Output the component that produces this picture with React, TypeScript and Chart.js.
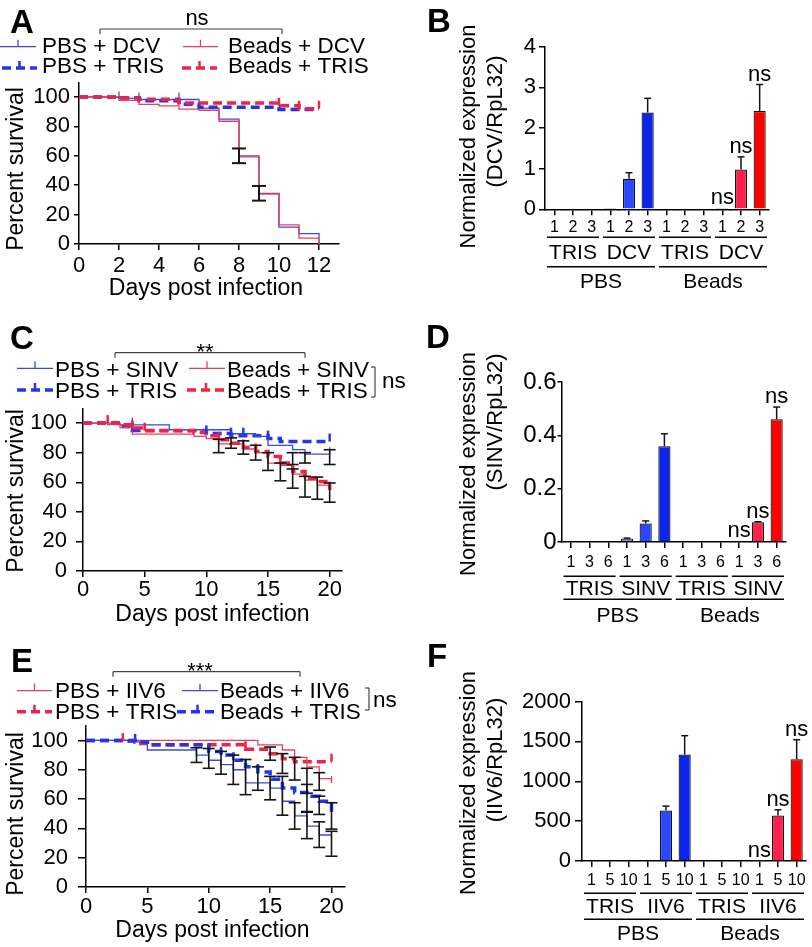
import React, { useEffect, useRef } from "react";
import { Chart, registerables } from "chart.js";
Chart.register(...registerables);

const FONT = "'Liberation Sans', Arial, Helvetica, sans-serif";
Chart.defaults.font.family = FONT;
Chart.defaults.color = "#000";

const W = 812;
const H = 947;
const BLUE = "#3a4bdc";
const RED = "#e8405a";
const BLUE_DASH = "#2236ee";
const RED_DASH = "#ee2447";

// ---------------- Panel A (DCV survival) ----------------
const aLegend = ["PBS + DCV", "Beads + DCV", "PBS + TRIS", "Beads + TRIS"];
const aXTicks = [0, 2, 4, 6, 8, 10, 12];
const survYTicks = [0, 20, 40, 60, 80, 100];
const aPbsDcvDays = [0, 2, 3, 6, 7, 8, 9, 10, 11, 12];
const aPbsDcvSurv = [100, 99, 98.3, 92.5, 85, 60, 34.5, 11.5, 7, 0];
const aPbsDcvCens = [2, 3, 5];
const aBeadsDcvDays = [0, 2, 3, 4, 5, 6, 7, 8, 9, 10, 11, 12];
const aBeadsDcvSurv = [100, 97.7, 95, 94, 91.8, 91, 83.5, 59.3, 34, 13, 4, 0];
const aPbsTrisDays = [0, 2, 3, 5, 6, 10, 12];
const aPbsTrisSurv = [100, 99.5, 97.5, 95, 93, 91.5, 91.5];
const aBeadsTrisDays = [0, 2, 3, 5, 10, 11, 12];
const aBeadsTrisSurv = [100, 99.3, 98.5, 96, 94, 92, 92];
const aBeadsTrisCens = [10, 11, 12];
const aErrDays = [8, 9];
const aErrLow = [55, 29.5];
const aErrHigh = [65, 39.5];

// ---------------- Panel C (SINV survival) ----------------
const cLegend = ["PBS + SINV", "Beads + SINV", "PBS + TRIS", "Beads + TRIS"];
const cXTicks = [0, 5, 10, 15, 20];
const cPbsSinvDays = [0, 3, 7, 12, 14, 15, 17, 18, 20];
const cPbsSinvSurv = [100, 98.8, 95.5, 92.8, 91, 85, 82, 79, 79];
const cPbsSinvCens = [4, 20];
const cBeadsSinvDays = [0, 2, 3, 4, 9, 10, 11, 13, 14, 15, 16, 17, 18, 19, 20];
const cBeadsSinvSurv = [100, 99, 97, 92.5, 91, 89.5, 86, 82.5, 80, 73, 71.5, 65.5, 61.5, 58, 56];
const cPbsTrisDays = [0, 3, 4, 10, 12, 15, 16, 20];
const cPbsTrisSurv = [100, 97.7, 95, 93, 91.5, 89.5, 87.5, 87.5];
const cPbsTrisCens = [4, 10, 12, 13, 15, 20];
const cBeadsTrisDays = [0, 3, 4, 5, 9, 10, 11, 12, 13, 14, 15, 16, 17, 18, 19, 20];
const cBeadsTrisSurv = [100, 98.9, 96.6, 94.8, 93.7, 91.4, 88.7, 86.4, 83.5, 80.8, 77.4, 73, 67.2, 62.7, 60.5, 55];
const cBeadsTrisCens = [2, 4, 5, 11, 13, 14, 16, 18, 20];
const cErrDays = [11, 12, 13, 14, 15, 16, 17, 17, 18, 18, 19, 20, 20];
const cErrLow = [80, 83, 79, 75, 68, 61, 72, 56, 73, 50, 48.5, 72, 46.5];
const cErrHigh = [89, 90, 88, 85, 80, 73, 80, 69, 80, 64, 63.5, 82, 59.5];

// ---------------- Panel E (IIV6 survival) ----------------
const eLegend = ["PBS + IIV6", "Beads + IIV6", "PBS + TRIS", "Beads + TRIS"];
const eXTicks = [0, 5, 10, 15, 20];
const ePbsIivDays = [0, 14, 16, 17, 18, 19, 20];
const ePbsIivSurv = [100, 97, 93.5, 88.5, 82, 74, 71];
const ePbsIivCens = [20];
const eBeadsIivDays = [0, 4, 5, 9, 10, 11, 12, 13, 15, 16, 17, 18, 19, 20];
const eBeadsIivSurv = [100, 99, 93.5, 90, 86.5, 83.5, 80, 71, 67.5, 58.5, 48.5, 41.5, 35.5, 35.5];
const eBeadsIivCens = [4];
const ePbsTrisDays = [0, 3, 4, 5, 13, 15, 16, 17, 20];
const ePbsTrisSurv = [100, 99.5, 98, 97, 94, 91, 87.5, 85.5, 85.5];
const ePbsTrisCens = [3, 13, 20];
const eBeadsTrisDays = [0, 4, 5, 10, 11, 12, 13, 14, 15, 16, 17, 18, 19, 20];
const eBeadsTrisSurv = [100, 99, 97, 92.5, 90, 86.5, 82, 78.5, 73.5, 67.5, 64.5, 62, 58.5, 51];
const eBeadsTrisCens = [4, 10, 11, 12, 13, 14];
const eErrDays = [9, 10, 11, 12, 13, 14, 15, 15, 16, 16, 17, 17, 18, 18, 18, 19, 19, 19, 20, 20];
const eErrLow = [85, 81, 77, 70, 63, 66, 86.5, 59.5, 77.5, 49, 73, 39.5, 64, 51, 33, 66, 49.5, 27, 39.5, 21];
const eErrHigh = [95, 94.5, 92.5, 90, 87, 82, 95.5, 75.5, 91, 75.5, 88.5, 57.5, 81, 70, 51.5, 78, 62, 44.5, 57.5, 38];

// ---------------- Bar panels ----------------
const topGroups = ["PBS", "Beads"];
const bTicks = ["1", "2", "3", "1", "2", "3", "1", "2", "3", "1", "2", "3"];
const bGroups = ["TRIS", "DCV", "TRIS", "DCV"];
const bValues = [0, 0, 0, 0.03, 0.75, 2.38, 0, 0, 0, 0.03, 0.98, 2.42];
const bErr = [null, null, null, null, 0.9, 2.73, null, null, null, null, 1.29, 3.07];
const bNs = [9, 10, 11];
const bYTicks = [0, 1, 2, 3, 4];
const bTitle = ["Normalized expression", "(DCV/RpL32)"];

const dTicks = ["1", "3", "6", "1", "3", "6", "1", "3", "6", "1", "3", "6"];
const dGroups = ["TRIS", "SINV", "TRIS", "SINV"];
const dValues = [0, 0, 0, 0.0125, 0.069, 0.359, 0, 0, 0, 0.002, 0.074, 0.46];
const dErr = [null, null, null, 0.0145, 0.079, 0.406, null, null, null, null, 0.076, 0.506];
const dNs = [9, 10, 11];
const dYTicks = [0, 0.2, 0.4, 0.6];
const dTitle = ["Normalized expression", "(SINV/RpL32)"];

const fTicks = ["1", "5", "10", "1", "5", "10", "1", "5", "10", "1", "5", "10"];
const fGroups = ["TRIS", "IIV6", "TRIS", "IIV6"];
const fValues = [0, 0, 0, 0, 634, 1334, 0, 0, 0, 3, 571, 1275];
const fErr = [null, null, null, null, 688, 1571, null, null, null, null, 642, 1521];
const fNs = [9, 10, 11];
const fYTicks = [0, 500, 1000, 1500, 2000];
const fTitle = ["Normalized expression", "(IIV6/RpL32)"];

const barColors = ["#ffffff", "#ffffff", "#ffffff", "#7d8cff", "#2a47ff", "#0b24ee",
  "#ffffff", "#ffffff", "#ffffff", "#ff8094", "#ff1f4d", "#ff0000"];

// ---------------- drawing helpers ----------------
function seg(ctx: any, x1: number, y1: number, x2: number, y2: number, color = "#000", w = 1.5, dash: number[] = []) {
  ctx.save();
  ctx.strokeStyle = color;
  ctx.lineWidth = w;
  ctx.setLineDash(dash);
  ctx.beginPath();
  ctx.moveTo(x1, y1);
  ctx.lineTo(x2, y2);
  ctx.stroke();
  ctx.restore();
}
function label(ctx: any, s: string, x: number, y: number, size: number, align = "left", bold = false) {
  ctx.save();
  ctx.font = `${bold ? "bold " : ""}${size}px ${FONT}`;
  ctx.fillStyle = "#000";
  ctx.textAlign = align;
  ctx.textBaseline = "alphabetic";
  ctx.fillText(s, x, y);
  ctx.restore();
}
function vlabel(ctx: any, s: string, cx: number, cy: number, size: number) {
  ctx.save();
  ctx.translate(cx, cy);
  ctx.rotate(-Math.PI / 2);
  ctx.font = `${size}px ${FONT}`;
  ctx.fillStyle = "#000";
  ctx.textAlign = "center";
  ctx.textBaseline = "middle";
  ctx.fillText(s, 0, 0);
  ctx.restore();
}
function stepAt(c: any, d: number) {
  let v = c.surv[0];
  for (let i = 0; i < c.days.length; i++) if (c.days[i] <= d) v = c.surv[i];
  return v;
}
function sample(ctx: any, c: any, x1: number, x2: number, y: number) {
  seg(ctx, x1, y, x2, y, c.color, c.dashed ? 3.5 : 1.3, c.dashed ? [9, 5] : []);
  const m = (x1 + x2) / 2;
  seg(ctx, m, y, m, y - 7, c.color, c.dashed ? 2.5 : 1.3);
}
function sigBracket(ctx: any, x1: number, x2: number, y: number, txt: string, tx: number, ty: number) {
  seg(ctx, x1, y + 5, x1, y, "#444", 1.2);
  seg(ctx, x1, y, x2, y, "#444", 1.2);
  seg(ctx, x2, y, x2, y + 5, "#444", 1.2);
  label(ctx, txt, tx, ty, 22, "center");
}
function sideNs(ctx: any, x: number, y1: number, y2: number, tx: number, ty: number) {
  seg(ctx, x - 4, y1, x, y1, "#444", 1.2);
  seg(ctx, x, y1, x, y2, "#444", 1.2);
  seg(ctx, x - 4, y2, x, y2, "#444", 1.2);
  label(ctx, "ns", tx, ty, 22.5);
}

// ---------------- survival chart factory ----------------
function makeSurv(P: any) {
  const decor = {
    id: "decor",
    afterDatasetsDraw(chart: any) {
      const ctx = chart.ctx;
      const xs = chart.scales.x;
      const ys = chart.scales.y;
      P.curves.forEach((c: any) => {
        c.cens.forEach((d: number) => {
          const px = xs.getPixelForValue(d);
          const py = ys.getPixelForValue(stepAt(c, d));
          seg(ctx, px, py, px, py - (c.dashed ? 8 : 7), c.color, c.dashed ? 2.5 : 1.3);
        });
      });
      P.errDays.forEach((d: number, i: number) => {
        const px = xs.getPixelForValue(d);
        const lo = ys.getPixelForValue(P.errLow[i]);
        const hi = ys.getPixelForValue(P.errHigh[i]);
        seg(ctx, px, lo, px, hi, "#151515", P.errW);
        seg(ctx, px - P.errCap, lo, px + P.errCap, lo, "#151515", P.errW);
        seg(ctx, px - P.errCap, hi, px + P.errCap, hi, "#151515", P.errW);
      });
    },
    afterDraw(chart: any) {
      const ctx = chart.ctx;
      P.legendPos.forEach((p: any, i: number) => {
        sample(ctx, P.curves[p.c], p.x1, p.x2, p.ly);
        label(ctx, P.legend[i], p.tx, p.ty, 22.5);
      });
      P.draw(ctx);
    },
  };
  return {
    type: "line",
    data: {
      datasets: P.curves.map((c: any) => ({
        data: c.days.map((d: number, i: number) => ({ x: d, y: c.surv[i] })),
        borderColor: c.color,
        borderWidth: c.dashed ? 3.5 : 1.3,
        borderDash: c.dashed ? [9, 5] : [],
        stepped: "before",
        pointRadius: 0,
        fill: false,
        order: c.order,
      })),
    },
    options: {
      responsive: false,
      animation: false,
      devicePixelRatio: 1,
      events: [],
      layout: { padding: { left: 0, top: P.top, right: W - P.right, bottom: 0 } },
      plugins: { legend: { display: false }, tooltip: { enabled: false } },
      scales: {
        x: {
          type: "linear",
          min: 0,
          max: P.xMax,
          afterFit: (s: any) => { s.height = H - P.bottom; },
          afterBuildTicks: (s: any) => { s.ticks = P.xTicks.map((v: number) => ({ value: v })); },
          ticks: { font: { size: 22 }, padding: P.xTickPad, color: "#000", maxRotation: 0, autoSkip: false, callback: (v: any) => String(v) },
          grid: { drawOnChartArea: false, tickLength: 6, color: "#000", lineWidth: 1.5 },
          border: { color: "#000", width: 1.5 },
        },
        y: {
          min: 0,
          max: 110,
          afterFit: (s: any) => { s.width = P.left; },
          afterBuildTicks: (s: any) => { s.ticks = survYTicks.map((v) => ({ value: v })); },
          ticks: { font: { size: 22 }, padding: P.yTickPad, color: "#000", callback: (v: any) => String(v) },
          grid: { drawOnChartArea: false, tickLength: P.yTickLen, color: "#000", lineWidth: 1.5 },
          border: { color: "#000", width: 1.5 },
        },
      },
    },
    plugins: [decor],
  };
}

// ---------------- bar chart factory ----------------
function makeBar(P: any) {
  const decor = {
    id: "decor",
    afterDatasetsDraw(chart: any) {
      const ctx = chart.ctx;
      const ys = chart.scales.y;
      const xs = chart.scales.x;
      const meta = chart.getDatasetMeta(0);
      P.err.forEach((e: any, i: number) => {
        if (e == null) return;
        const bx = meta.data[i].x;
        const top = ys.getPixelForValue(P.values[i]);
        const ey = ys.getPixelForValue(e);
        seg(ctx, bx, top, bx, ey, "#151515", 1.5);
        seg(ctx, bx - 3.5, ey, bx + 3.5, ey, "#151515", 1.5);
      });
      P.ns.forEach((i: number) => {
        const v = Math.max(P.values[i], P.err[i] == null ? 0 : P.err[i]);
        label(ctx, "ns", meta.data[i].x, ys.getPixelForValue(v) - 4, 22, "center");
      });
      const hs = (xs.right - xs.left) / P.ticks.length / 2;
      const cx = (i: number) => xs.getPixelForValue(i);
      P.groups.forEach((g: string, k: number) => {
        const a = cx(k * 3) - hs + 2;
        const b = cx(k * 3 + 2) + hs - 2;
        seg(ctx, a, P.gY[0], b, P.gY[0], "#000", 1.5);
        label(ctx, g, (a + b) / 2, P.gT[0], 21, "center");
      });
      topGroups.forEach((g: string, k: number) => {
        const a = cx(k * 6) - hs + 2;
        const b = cx(k * 6 + 5) + hs - 2;
        seg(ctx, a, P.gY[1], b, P.gY[1], "#000", 1.5);
        label(ctx, g, (a + b) / 2, P.gT[1], 21, "center");
      });
      label(ctx, P.letter, P.letterPos[0], P.letterPos[1], 33, "left", true);
      vlabel(ctx, P.title[0], P.t1[0], P.t1[1], 22);
      vlabel(ctx, P.title[1], P.t2[0], P.t2[1], 22);
    },
  };
  return {
    type: "bar",
    data: {
      labels: P.ticks,
      datasets: [{
        data: P.values,
        backgroundColor: barColors,
        borderColor: "#111",
        borderWidth: 1.2,
        barPercentage: 0.65,
        categoryPercentage: 1,
      }],
    },
    options: {
      responsive: false,
      animation: false,
      devicePixelRatio: 1,
      events: [],
      layout: { padding: { left: 0, top: P.top, right: W - P.right, bottom: 0 } },
      plugins: { legend: { display: false }, tooltip: { enabled: false } },
      scales: {
        x: {
          type: "category",
          afterFit: (s: any) => { s.height = H - P.bottom; },
          ticks: { font: { size: 16 }, padding: P.xTickPad, color: "#000", maxRotation: 0, autoSkip: false },
          grid: { offset: false, drawOnChartArea: false, tickLength: 6, color: "#000", lineWidth: 1.5 },
          border: { color: "#000", width: 1.5 },
        },
        y: {
          min: 0,
          max: P.yTicks[P.yTicks.length - 1],
          afterFit: (s: any) => { s.width = P.left; },
          afterBuildTicks: (s: any) => { s.ticks = P.yTicks.map((v: number) => ({ value: v })); },
          ticks: { font: { size: P.yFont }, padding: P.yTickPad, color: "#000", callback: (v: any) => String(v) },
          grid: { drawOnChartArea: false, tickLength: P.yTickLen, color: "#000", lineWidth: 1.5 },
          border: { color: "#000", width: 1.5 },
        },
      },
    },
    plugins: [decor],
  };
}

// ---------------- panel definitions ----------------
const panelA = () => makeSurv({
  curves: [
    { days: aPbsDcvDays, surv: aPbsDcvSurv, color: BLUE, dashed: false, cens: aPbsDcvCens, order: 3 },
    { days: aBeadsDcvDays, surv: aBeadsDcvSurv, color: RED, dashed: false, cens: [], order: 1 },
    { days: aPbsTrisDays, surv: aPbsTrisSurv, color: BLUE_DASH, dashed: true, cens: [], order: 2 },
    { days: aBeadsTrisDays, surv: aBeadsTrisSurv, color: RED_DASH, dashed: true, cens: aBeadsTrisCens, order: 0 },
  ],
  legend: aLegend,
  legendPos: [
    { c: 0, x1: 0, x2: 36, ly: 46.7, tx: 42, ty: 53.3 },
    { c: 1, x1: 183, x2: 218, ly: 46.7, tx: 228, ty: 53.3 },
    { c: 2, x1: 2, x2: 37, ly: 68, tx: 42, ty: 73.3 },
    { c: 3, x1: 182, x2: 217, ly: 68, tx: 228, ty: 73.3 },
  ],
  xTicks: aXTicks, xMax: 13,
  left: 79, right: 339, top: 82.3, bottom: 244,
  yTickLen: 5, yTickPad: 4, xTickPad: 3,
  errDays: aErrDays, errLow: aErrLow, errHigh: aErrHigh, errW: 2, errCap: 7,
  draw: (ctx: any) => {
    label(ctx, "A", 10, 32.5, 33, "left", true);
    sigBracket(ctx, 100, 282, 29, "ns", 197, 25);
    vlabel(ctx, "Percent survival", 16.5, 169, 23);
    label(ctx, "Days post infection", 206, 294.5, 23, "center");
  },
});

const panelC = () => makeSurv({
  curves: [
    { days: cPbsSinvDays, surv: cPbsSinvSurv, color: BLUE, dashed: false, cens: cPbsSinvCens, order: 2 },
    { days: cBeadsSinvDays, surv: cBeadsSinvSurv, color: RED, dashed: false, cens: [], order: 1 },
    { days: cPbsTrisDays, surv: cPbsTrisSurv, color: BLUE_DASH, dashed: true, cens: cPbsTrisCens, order: 3 },
    { days: cBeadsTrisDays, surv: cBeadsTrisSurv, color: RED_DASH, dashed: true, cens: cBeadsTrisCens, order: 0 },
  ],
  legend: cLegend,
  legendPos: [
    { c: 0, x1: 17, x2: 53, ly: 368.3, tx: 55, ty: 377.3 },
    { c: 1, x1: 189, x2: 225, ly: 368.3, tx: 227, ty: 377.3 },
    { c: 2, x1: 17, x2: 53, ly: 390, tx: 55, ty: 398 },
    { c: 3, x1: 187, x2: 225, ly: 390, tx: 227, ty: 398 },
  ],
  xTicks: cXTicks, xMax: 21,
  left: 83, right: 342, top: 408.3, bottom: 571,
  yTickLen: 7, yTickPad: 9, xTickPad: 0,
  errDays: cErrDays, errLow: cErrLow, errHigh: cErrHigh, errW: 1.6, errCap: 6,
  draw: (ctx: any) => {
    label(ctx, "C", 10, 349, 33, "left", true);
    sigBracket(ctx, 115, 305, 352.7, "**", 205, 359);
    sideNs(ctx, 375, 367, 397, 382, 388);
    vlabel(ctx, "Percent survival", 16.5, 491, 23);
    label(ctx, "Days post infection", 212.5, 620.7, 23, "center");
  },
});

const panelE = () => makeSurv({
  curves: [
    { days: ePbsIivDays, surv: ePbsIivSurv, color: RED, dashed: false, cens: ePbsIivCens, order: 2 },
    { days: eBeadsIivDays, surv: eBeadsIivSurv, color: BLUE, dashed: false, cens: eBeadsIivCens, order: 1 },
    { days: ePbsTrisDays, surv: ePbsTrisSurv, color: RED_DASH, dashed: true, cens: ePbsTrisCens, order: 3 },
    { days: eBeadsTrisDays, surv: eBeadsTrisSurv, color: BLUE_DASH, dashed: true, cens: eBeadsTrisCens, order: 0 },
  ],
  legend: eLegend,
  legendPos: [
    { c: 0, x1: 17, x2: 52, ly: 690.7, tx: 55, ty: 698.3 },
    { c: 1, x1: 182, x2: 218, ly: 690.7, tx: 220, ty: 698.3 },
    { c: 2, x1: 17, x2: 52, ly: 711.7, tx: 55, ty: 719.3 },
    { c: 3, x1: 177, x2: 218, ly: 711.7, tx: 220, ty: 719.3 },
  ],
  xTicks: eXTicks, xMax: 21.1,
  left: 86, right: 345, top: 725.8, bottom: 887,
  yTickLen: 8, yTickPad: 10, xTickPad: 1,
  errDays: eErrDays, errLow: eErrLow, errHigh: eErrHigh, errW: 1.6, errCap: 6,
  draw: (ctx: any) => {
    label(ctx, "E", 11, 671.7, 33, "left", true);
    sigBracket(ctx, 113, 300, 671.7, "***", 200, 677.5);
    sideNs(ctx, 369, 688, 710, 373, 707);
    vlabel(ctx, "Percent survival", 16.5, 814, 23);
    label(ctx, "Days post infection", 212.5, 937.3, 23, "center");
  },
});

const panelB = () => makeBar({
  ticks: bTicks, groups: bGroups, values: bValues, err: bErr, ns: bNs, yTicks: bYTicks, title: bTitle,
  left: 545, right: 769, top: 46.7, bottom: 209.3,
  yTickLen: 6, yTickPad: 3, xTickPad: 3, yFont: 22,
  gY: [237.3, 266.7], gT: [259, 288],
  letter: "B", letterPos: [427, 31.7], t1: [469, 136.5], t2: [496, 121.5],
});

const panelD = () => makeBar({
  ticks: dTicks, groups: dGroups, values: dValues, err: dErr, ns: dNs, yTicks: dYTicks, title: dTitle,
  left: 561.5, right: 786, top: 382, bottom: 542,
  yTickLen: 4, yTickPad: 1, xTickPad: 5, yFont: 24,
  gY: [576.3, 599.3], gT: [595, 621.5],
  letter: "D", letterPos: [426, 348.3], t1: [469, 464], t2: [496, 422],
});

const panelF = () => makeBar({
  ticks: fTicks, groups: fGroups, values: fValues, err: fErr, ns: fNs, yTicks: fYTicks, title: fTitle,
  left: 582, right: 806, top: 701.5, bottom: 861,
  yTickLen: 7, yTickPad: 4, xTickPad: 4, yFont: 22,
  gY: [893.3, 919.3], gT: [913, 940],
  letter: "F", letterPos: [427, 667], t1: [469, 783], t2: [496, 760],
});

const factories = [panelA, panelB, panelC, panelD, panelE, panelF];

function ChartLayer({ make }: { make: () => any }) {
  const ref = useRef<HTMLCanvasElement>(null);
  useEffect(() => {
    const chart = new Chart(ref.current as HTMLCanvasElement, make());
    return () => chart.destroy();
  }, []);
  return <canvas ref={ref} width={W} height={H} style={{ position: "absolute", left: 0, top: 0, width: W, height: H }} />;
}

export default function App() {
  return (
    <div style={{ position: "absolute", left: 0, top: 0, width: W, height: H, background: "#fff", overflow: "hidden" }}>
      {factories.map((f, i) => <ChartLayer key={i} make={f} />)}
    </div>
  );
}
